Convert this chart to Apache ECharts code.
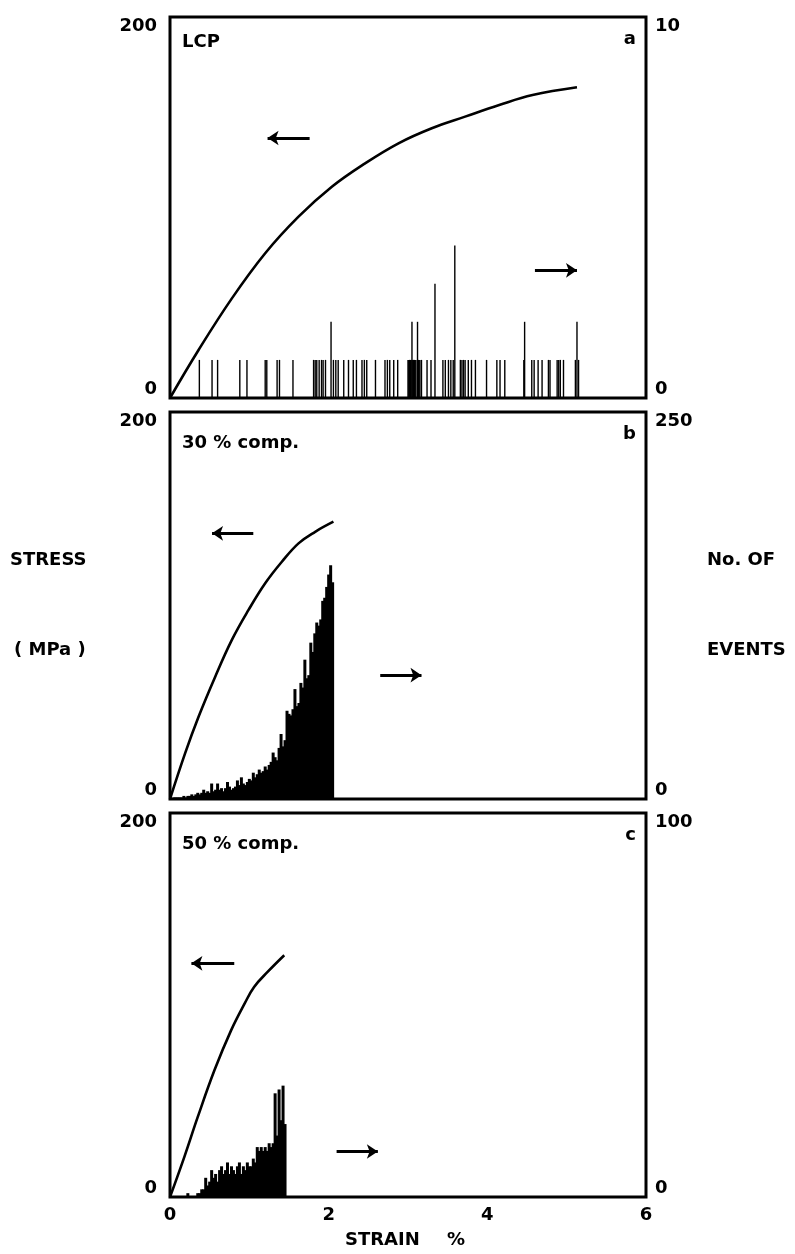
<!DOCTYPE html>
<html>
<head>
<meta charset="utf-8">
<script src="https://cdn.jsdelivr.net/npm/echarts@6/dist/echarts.min.js"></script>
<style>
html,body{margin:0;padding:0;background:#fff;}
#chart{width:795px;height:1254px;}
</style>
</head>
<body>
<div id="chart"></div>
<script>
// ---------- DATA ----------
// Panel a (LCP)
var strainA = [0, 0.36, 0.78, 1.20, 1.62, 2.04, 2.46, 2.88, 3.30, 3.72, 4.15, 4.57, 5.13];
var stressA = [0, 25.2, 52.3, 76, 95.2, 110.9, 123.2, 133.7, 141.6, 147.7, 153.8, 159, 163.1];
var eventStrainA = [0.37,0.53,0.60,0.88,0.97,1.20,1.22,1.35,1.38,1.55,1.81,1.83,1.85,1.88,1.91,1.93,1.96,2.03,2.06,2.09,2.12,2.19,2.25,2.31,2.35,2.42,2.45,2.48,2.59,2.71,2.74,2.77,2.82,2.87,3.00,3.01,3.02,3.03,3.04,3.05,3.06,3.07,3.08,3.09,3.10,3.12,3.13,3.14,3.15,3.17,3.24,3.29,3.34,3.44,3.47,3.51,3.54,3.57,3.59,3.66,3.68,3.70,3.72,3.76,3.80,3.85,3.99,4.12,4.16,4.22,4.46,4.47,4.56,4.59,4.64,4.69,4.77,4.79,4.88,4.90,4.92,4.96,5.11,5.13,5.15];
var eventCountA  = [1,1,1,1,1,1,1,1,1,1,1,1,1,1,1,1,1,2,1,1,1,1,1,1,1,1,1,1,1,1,1,1,1,1,1,1,1,1,1,2,1,1,1,1,1,2,1,1,1,1,1,1,3,1,1,1,1,1,4,1,1,1,1,1,1,1,1,1,1,1,1,2,1,1,1,1,1,1,1,1,1,1,1,2,1];

// Panel b (30 % comp.)
var strainB = [0, 0.19, 0.36, 0.57, 0.78, 0.99, 1.20, 1.41, 1.62, 1.83, 2.06];
var stressB = [0, 23.6, 42.5, 63.2, 82.2, 97.7, 111.5, 122.6, 132.1, 138.1, 143.3];
var eventStrainB = [0.05,0.075,0.1,0.125,0.15,0.175,0.2,0.225,0.25,0.275,0.3,0.325,0.35,0.375,0.4,0.425,0.45,0.475,0.5,0.525,0.55,0.575,0.6,0.625,0.65,0.675,0.7,0.725,0.75,0.775,0.8,0.825,0.85,0.875,0.9,0.925,0.95,0.975,1.0,1.025,1.05,1.075,1.1,1.125,1.15,1.175,1.2,1.225,1.25,1.275,1.3,1.325,1.35,1.375,1.4,1.425,1.45,1.475,1.5,1.525,1.55,1.575,1.6,1.625,1.65,1.675,1.7,1.725,1.75,1.775,1.8,1.825,1.85,1.875,1.9,1.925,1.95,1.975,2.0,2.025,2.05];
var eventCountB  = [1,1,1,1,1,2,1,2,2,3,2,3,4,3,4,6,4,5,4,10,5,6,10,6,7,5,7,11,8,6,7,8,12,9,14,10,9,11,13,12,17,14,16,19,17,18,21,19,22,24,30,27,25,33,42,34,38,57,55,54,58,71,60,62,75,72,90,78,80,101,95,107,114,112,116,128,130,137,145,151,140];

// Panel c (50 % comp.)
var strainC = [0, 0.18, 0.35, 0.56, 0.77, 0.94, 1.06, 1.23, 1.44];
var stressC = [0, 20.8, 41.7, 66, 86.8, 100.7, 109.4, 117.2, 125.9];
var eventStrainC = [0.225,0.35,0.375,0.4,0.425,0.45,0.475,0.5,0.525,0.55,0.575,0.6,0.625,0.65,0.675,0.7,0.725,0.75,0.775,0.8,0.825,0.85,0.875,0.9,0.925,0.95,0.975,1.0,1.025,1.05,1.075,1.1,1.125,1.15,1.175,1.2,1.225,1.25,1.275,1.3,1.325,1.35,1.375,1.4,1.425,1.45];
var eventCountC  = [1,1,1,2,2,5,3,4,7,5,6,4,7,8,6,7,9,6,8,7,6,8,9,6,8,7,9,8,8,10,9,13,12,13,12,13,12,14,13,14,27,16,28,20,29,19];

// Axis ranges / tick labels
var strainTicks = [0, 2, 4, 6];
var stressMax = 200;
var eventsMax = [10, 250, 100];
var panelNames = ['LCP', '30 % comp.', '50 % comp.'];
var panelLetters = ['a', 'b', 'c'];

// arrows (data coords: [strainStart, strainEnd, stress])
var arrowsLeft  = [[1.76, 1.23, 136.5], [1.05, 0.53, 137.3], [0.81, 0.27, 121.7]];
var arrowsRight = [[4.60, 5.13, 67], [2.65, 3.17, 64], [2.10, 2.62, 23.7]];

// ---------- CHART ----------
var FONT = 'DejaVu Sans';
function pairs(xs, ys){ return xs.map(function(x,i){ return [x, ys[i]]; }); }

var grids = [
  {left:170, right:149, top:17,  height:381},
  {left:170, right:149, top:412, height:387},
  {left:170, right:149, top:813, height:384}
];
grids.forEach(function(g){ g.show = true; g.borderColor = '#000'; g.borderWidth = 3; g.backgroundColor='transparent'; });

var labelBase = {color:'#000', fontFamily:FONT, fontWeight:'bold', fontSize:18,
  verticalAlignMaxLabel:'top', verticalAlignMinLabel:'bottom'};
var xAxes = [], yAxes = [], series = [];
for (var i = 0; i < 3; i++) {
  xAxes.push({
    type:'value', gridIndex:i, min:strainTicks[0], max:strainTicks[strainTicks.length-1], interval:2,
    axisLine:{show:false}, axisTick:{show:false}, splitLine:{show:false},
    axisLabel:{show: i===2, color:'#000', fontFamily:FONT, fontWeight:'bold', fontSize:18, margin:9}
  });
  yAxes.push({
    type:'value', gridIndex:i, position:'left', min:0, max:stressMax, interval:stressMax,
    axisLine:{show:false}, axisTick:{show:false}, splitLine:{show:false},
    axisLabel:Object.assign({margin:13}, labelBase)
  });
  yAxes.push({
    type:'value', gridIndex:i, position:'right', min:0, max:eventsMax[i], interval:eventsMax[i],
    axisLine:{show:false}, axisTick:{show:false}, splitLine:{show:false},
    axisLabel:Object.assign({margin:9}, labelBase)
  });
}

var curves = [pairs(strainA, stressA), pairs(strainB, stressB), pairs(strainC, stressC)];
var events = [pairs(eventStrainA, eventCountA), pairs(eventStrainB, eventCountB), pairs(eventStrainC, eventCountC)];
var barW = [1.4, 3, 3];

for (var j = 0; j < 3; j++) {
  series.push({
    type:'bar', xAxisIndex:j, yAxisIndex:2*j+1, data:events[j], barWidth:barW[j],
    itemStyle:{color:'#000'}, silent:true, animation:false
  });
  var la = arrowsLeft[j], ra = arrowsRight[j];
  series.push({
    type:'line', xAxisIndex:j, yAxisIndex:2*j, data:curves[j], smooth:0.4,
    showSymbol:false, symbol:'none',
    lineStyle:{color:'#000', width:2.6, join:'round'}, silent:true, animation:false,
    markLine:{
      silent:true, animation:false, symbol:['none','arrow'], symbolSize:11,
      label:{show:false}, lineStyle:{color:'#000', width:3.2, type:'solid'},
      emphasis:{disabled:true},
      data:[
        [{coord:[la[0], la[2]]}, {coord:[la[1], la[2]]}],
        [{coord:[ra[0], ra[2]]}, {coord:[ra[1], ra[2]]}]
      ]
    }
  });
}

var txtStyle = function(t, x, y, align){
  return {type:'text', x:x, y:y, silent:true,
    style:{text:t, fill:'#000', font:'bold 18px "DejaVu Sans"', textAlign:align||'left', textVerticalAlign:'middle'}};
};
var tops = [17, 412, 813];
var graphics = [
  txtStyle('STRESS', 10, 560),
  txtStyle('( MPa )', 14, 650),
  txtStyle('No. OF', 707, 560),
  txtStyle('EVENTS', 707, 650),
  txtStyle('STRAIN', 345, 1240),
  txtStyle('%', 447, 1240)
];
for (var k = 0; k < 3; k++) {
  graphics.push(txtStyle(panelNames[k], 182, tops[k] + (k===0 ? 25 : 31)));
  graphics.push(txtStyle(panelLetters[k], 636, tops[k] + 22, 'right'));
}

var chart = echarts.init(document.getElementById('chart'), null, {renderer:'canvas'});
chart.setOption({
  animation:false,
  backgroundColor:'#fff',
  grid:grids, xAxis:xAxes, yAxis:yAxes, series:series,
  graphic:graphics
});
</script>
</body>
</html>
